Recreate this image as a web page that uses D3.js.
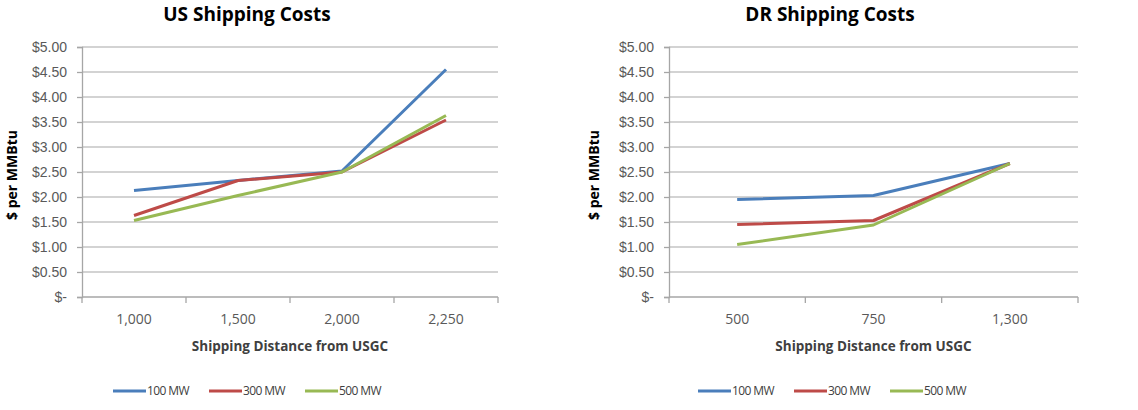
<!DOCTYPE html>
<html>
<head>
<meta charset="utf-8">
<script src="https://cdn.jsdelivr.net/npm/d3@7"></script>
<style>
  body { margin: 0; background: #fff; }
  svg { display: block; font-family: "Open Sans", "Liberation Sans", sans-serif; }
</style>
</head>
<body>
<div id="chart"></div>
<script>

const seriesNames = ["100 MW", "300 MW", "500 MW"];
const seriesColors = ["#4a7ebb", "#be4b48", "#98b954"];

const usCategories = ["1,000", "1,500", "2,000", "2,250"];
const us100 = [2.13, 2.33, 2.52, 4.55];
const us300 = [1.63, 2.33, 2.50, 3.54];
const us500 = [1.53, 2.03, 2.50, 3.63];

const drCategories = ["500", "750", "1,300"];
const dr100 = [1.95, 2.03, 2.67];
const dr300 = [1.45, 1.53, 2.67];
const dr500 = [1.05, 1.44, 2.67];

const yTicks = [0, 0.5, 1, 1.5, 2, 2.5, 3, 3.5, 4, 4.5, 5];

const width = 1138, height = 410;

const svg = d3.select("#chart")
    .append("svg")
    .attr("width", width)
    .attr("height", height);

function drawChart(opts) {

    const g = svg.append("g");

    const x = d3.scaleBand()
        .domain(opts.categories)
        .range([opts.left, opts.right]);

    const y = d3.scaleLinear()
        .domain([0, 5])
        .range([297, 47]);

    // gridlines
    g.selectAll("line.grid")
        .data(yTicks.slice(1))
        .enter()
        .append("line")
        .attr("x1", opts.left)
        .attr("x2", opts.right)
        .attr("y1", d => y(d))
        .attr("y2", d => y(d))
        .style("stroke", "#c4c4c4")
        .style("stroke-width", 1.3);

    // y axis
    const yAxis = d3.axisLeft(y)
        .tickValues(yTicks)
        .tickSize(5)
        .tickPadding(10)
        .tickFormat(d => d === 0 ? "$-" : "$" + d.toFixed(2));

    const ya = g.append("g")
        .attr("transform", "translate(" + opts.left + ",0)")
        .call(yAxis);
    ya.select(".domain").style("stroke", "#a6a6a6").style("stroke-width", 1.3);
    ya.selectAll(".tick line").style("stroke", "#a6a6a6").style("stroke-width", 1.3);
    ya.selectAll(".tick text")
        .style("font-size", "14px")
        .style("fill", "#595959");

    // x axis
    const xa = g.append("g")
        .attr("transform", "translate(0,297)");
    xa.append("line")
        .attr("x1", opts.left)
        .attr("x2", opts.right)
        .style("stroke", "#a6a6a6")
        .style("stroke-width", 1.3);
    const edges = opts.categories.map(c => x(c)).concat([opts.right]);
    xa.selectAll("line.tk")
        .data(edges)
        .enter()
        .append("line")
        .attr("x1", d => d)
        .attr("x2", d => d)
        .attr("y1", 0)
        .attr("y2", 6)
        .style("stroke", "#a6a6a6")
        .style("stroke-width", 1.3);
    xa.selectAll("text")
        .data(opts.categories)
        .enter()
        .append("text")
        .attr("x", d => x(d) + x.bandwidth() / 2)
        .attr("y", 27)
        .attr("text-anchor", "middle")
        .style("font-size", "14px")
        .style("fill", "#595959")
        .text(d => d);

    // lines
    const line = d3.line()
        .x((d, i) => x(opts.categories[i]) + x.bandwidth() / 2)
        .y(d => y(d));

    g.selectAll("path.series")
        .data(opts.series)
        .enter()
        .append("path")
        .attr("d", d => line(d))
        .style("fill", "none")
        .style("stroke", (d, i) => seriesColors[i])
        .style("stroke-width", 3)
        .style("stroke-linejoin", "round");

    // title
    g.append("text")
        .attr("x", opts.titleX)
        .attr("y", 21)
        .attr("text-anchor", "middle")
        .style("font-size", "19px")
        .style("font-weight", "bold")
        .style("fill", "#000")
        .text(opts.title);

    // axis titles
    g.append("text")
        .attr("x", (opts.left + opts.right) / 2)
        .attr("y", 351)
        .attr("text-anchor", "middle")
        .style("font-size", "13.5px")
        .style("font-weight", "bold")
        .style("fill", "#404040")
        .text("Shipping Distance from USGC");

    g.append("text")
        .attr("transform", "translate(" + opts.yTitleX + ",175) rotate(-90)")
        .attr("text-anchor", "middle")
        .style("font-size", "14px")
        .style("font-weight", "bold")
        .style("fill", "#000")
        .text("$ per MMBtu");

    // legend
    const lg = g.append("g")
        .attr("transform", "translate(" + opts.legendX + ",391)");
    const item = lg.selectAll("g")
        .data(seriesNames)
        .enter()
        .append("g")
        .attr("transform", (d, i) => "translate(" + (i * 96) + ",0)");
    item.append("line")
        .attr("x1", 0)
        .attr("x2", 33)
        .style("stroke", (d, i) => seriesColors[i])
        .style("stroke-width", 3);
    item.append("text")
        .attr("x", 34)
        .attr("y", 4)
        .style("font-size", "12px")
        .style("letter-spacing", "-0.6px")
        .style("fill", "#404040")
        .text(d => d);
}

drawChart({
    title: "US Shipping Costs",
    categories: usCategories,
    series: [us100, us300, us500],
    left: 82, right: 498,
    titleX: 247,
    yTitleX: 17,
    legendX: 113
});

drawChart({
    title: "DR Shipping Costs",
    categories: drCategories,
    series: [dr100, dr300, dr500],
    left: 669, right: 1078,
    titleX: 830,
    yTitleX: 599,
    legendX: 698
});

</script>
</body>
</html>
